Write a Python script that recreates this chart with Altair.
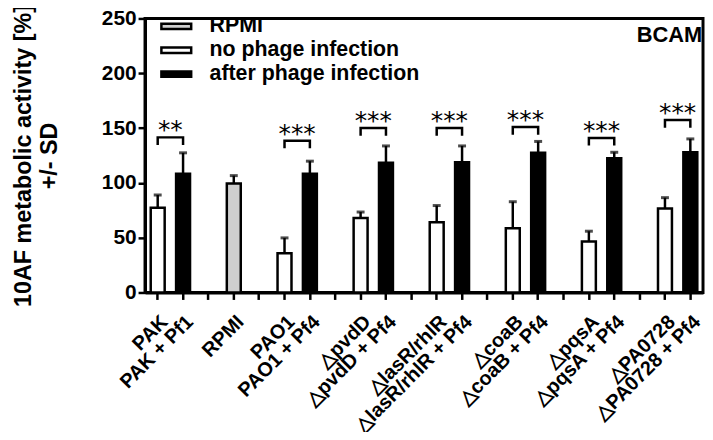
import altair as alt
import pandas as pd

FONT = "Liberation Sans"

# x categories (gaps keep the empty ticks between groups)
categories = ["PAK", "PAK + Pf1", "gap1", "RPMI", "gap2", "PAO1", "PAO1 + Pf4", "gap3",
              "△pvdD", "△pvdD + Pf4", "gap4", "△lasR/rhlR", "△lasR/rhlR + Pf4", "gap5",
              "△coaB", "△coaB + Pf4", "gap6", "△pqsA", "△pqsA + Pf4", "gap7",
              "△PA0728", "△PA0728 + Pf4"]

bar_categories = ["PAK", "PAK + Pf1", "RPMI", "PAO1", "PAO1 + Pf4", "△pvdD", "△pvdD + Pf4",
                  "△lasR/rhlR", "△lasR/rhlR + Pf4", "△coaB", "△coaB + Pf4",
                  "△pqsA", "△pqsA + Pf4", "△PA0728", "△PA0728 + Pf4"]
bar_groups = ["no phage infection", "after phage infection", "RPMI",
              "no phage infection", "after phage infection",
              "no phage infection", "after phage infection",
              "no phage infection", "after phage infection",
              "no phage infection", "after phage infection",
              "no phage infection", "after phage infection",
              "no phage infection", "after phage infection"]
bar_means = [77.2, 108.4, 99.4, 35.8, 108.4, 67.9, 118.3, 64.1, 118.9, 58.6, 127.4, 46.6, 122.4, 76.7, 127.9]
bar_sd = [11.7, 19.0, 7.2, 14.0, 11.4, 5.5, 15.4, 15.2, 14.8, 24.2, 10.4, 9.3, 5.5, 9.8, 12.2]

pair_left = ["PAK", "PAO1", "△pvdD", "△lasR/rhlR", "△coaB", "△pqsA", "△PA0728"]
pair_right = ["PAK + Pf1", "PAO1 + Pf4", "△pvdD + Pf4", "△lasR/rhlR + Pf4", "△coaB + Pf4",
              "△pqsA + Pf4", "△PA0728 + Pf4"]
pair_level = [141.5, 138.5, 150.0, 150.0, 151.0, 141.0, 157.3]
pair_stars = ["**", "***", "***", "***", "***", "***", "***"]
cap_depth = 7.0

group_order = ["RPMI", "no phage infection", "after phage infection"]
group_colors = ["#cfcfcf", "#ffffff", "#000000"]
y_ticks = [0, 50, 100, 150, 200, 250]

panel_label = ["BCAM"]
panel_label_cat = ["△PA0728 + Pf4"]
panel_label_y = [235.3]

bars_df = pd.DataFrame({"cat": bar_categories, "group": bar_groups,
                        "mean": bar_means, "sd": bar_sd})
bars_df["top"] = bars_df["mean"] + bars_df["sd"]

br_rows = []
for i, (l, r, lev) in enumerate(zip(pair_left, pair_right, pair_level)):
    br_rows += [
        {"pair": i, "o": 0, "cat": l, "y": lev - cap_depth},
        {"pair": i, "o": 1, "cat": l, "y": lev},
        {"pair": i, "o": 2, "cat": r, "y": lev},
        {"pair": i, "o": 3, "cat": r, "y": lev - cap_depth},
    ]
br_df = pd.DataFrame(br_rows)
stars_df = pd.DataFrame({"cat": pair_right, "y": pair_level, "stars": pair_stars})
label_df = pd.DataFrame({"cat": panel_label_cat, "y": panel_label_y, "text": panel_label})

xscale = alt.Scale(domain=categories, paddingInner=0.45, paddingOuter=0.225)
yscale = alt.Scale(domain=[0, 250], nice=False)

x_axis = alt.Axis(
    title=None,
    labelExpr="indexof(datum.value, 'gap') == 0 ? '' : datum.value",
    labelAngle=-45, labelAlign="right", labelBaseline="top",
    labelFont=FONT, labelFontSize=20, labelFontWeight="bold", labelColor="black",
    labelPadding=12, labelOverlap=False, labelBound=False, labelFlush=False, labelLimit=0,
    tickSize=7, tickWidth=2.5, tickColor="black",
    domainWidth=3, domainColor="black", grid=False,
)
y_axis = alt.Axis(
    values=y_ticks, grid=False,
    title=["10AF metabolic activity [%]", "+/- SD"],
    titleFont=FONT, titleFontSize=23.5, titleFontWeight="bold", titleColor="black",
    titleAngle=-90, titleAlign="center", titleBaseline="top",
    titleX=-134, titleY=138, titleLineHeight=26,
    labelFont=FONT, labelFontSize=21, labelFontWeight="bold", labelColor="black",
    labelPadding=2, tickSize=7, tickWidth=2.5, tickColor="black",
    domainWidth=3, domainColor="black",
)

bars = alt.Chart(bars_df).mark_bar(stroke="black", strokeWidth=2.5).encode(
    x=alt.X("cat:N", scale=xscale, axis=x_axis),
    y=alt.Y("mean:Q", scale=yscale, axis=y_axis),
    fill=alt.Fill("group:N", scale=alt.Scale(domain=group_order, range=group_colors),
                  legend=alt.Legend(
                      orient="none", legendX=15, legendY=-2, title=None,
                      symbolType="M-1,-0.18H1V0.18H-1Z", symbolSize=900,
                      symbolStrokeColor="black", symbolStrokeWidth=2.5,
                      labelFont=FONT, labelFontSize=21.5, labelFontWeight="bold",
                      labelColor="black", labelOffset=17, rowPadding=2, clipHeight=20,
                      labelLimit=0,
                  )),
)

err = alt.Chart(bars_df).mark_rule(color="black", strokeWidth=2.5).encode(
    x=alt.X("cat:N", scale=xscale),
    y=alt.Y("mean:Q", scale=yscale),
    y2="top:Q",
)
caps = alt.Chart(bars_df).mark_tick(color="black", thickness=3, size=8).encode(
    x=alt.X("cat:N", scale=xscale),
    y=alt.Y("top:Q", scale=yscale),
)
brackets = alt.Chart(br_df).mark_line(color="black", strokeWidth=2.5, strokeJoin="miter").encode(
    x=alt.X("cat:N", scale=xscale),
    y=alt.Y("y:Q", scale=yscale),
    detail="pair:N",
    order="o:Q",
)
stars = alt.Chart(stars_df).mark_text(
    font="DejaVu Sans", fontSize=25, color="black", baseline="alphabetic", dx=-12.8, dy=1,
).encode(
    x=alt.X("cat:N", scale=xscale),
    y=alt.Y("y:Q", scale=yscale),
    text="stars:N",
)
panel = alt.Chart(label_df).mark_text(
    font=FONT, fontSize=22, fontWeight="bold", color="black", align="right",
    baseline="middle", dx=12,
).encode(
    x=alt.X("cat:N", scale=xscale),
    y=alt.Y("y:Q", scale=yscale),
    text="text:N",
)

chart = alt.layer(bars, err, caps, brackets, stars, panel).properties(
    width=562, height=276,
    padding={"left": 138, "top": 9, "right": 2, "bottom": 139},
    autosize=alt.AutoSizeParams(type="none"),
).configure(background="white").configure_view(stroke="black", strokeWidth=3)

chart.save("out.html", embed_options={"renderer": "svg", "actions": False})
